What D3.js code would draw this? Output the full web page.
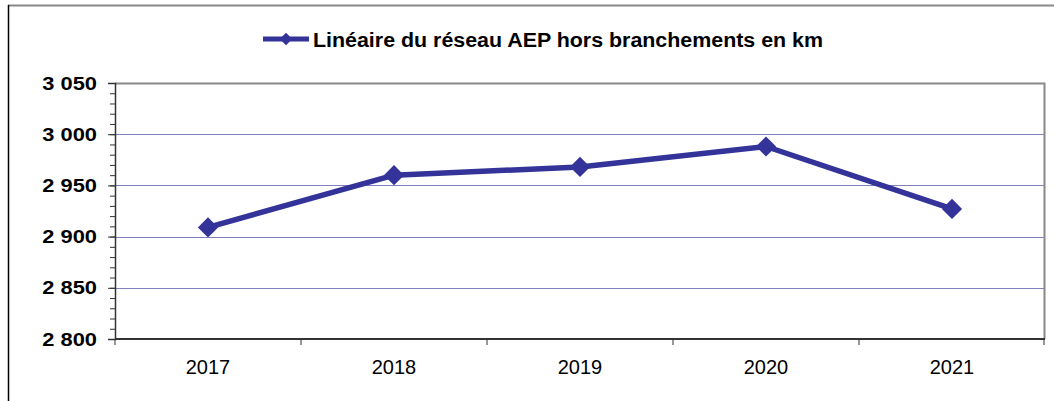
<!DOCTYPE html>
<html>
<head>
<meta charset="utf-8">
<script src="https://cdn.jsdelivr.net/npm/d3@7"></script>
<style>
  body { margin: 0; background: #fff; }
  #chart { width: 1054px; height: 401px; }
</style>
</head>
<body>
<div id="chart"></div>
<script>
const years = ["2017", "2018", "2019", "2020", "2021"];
const lineaire = [2909, 2960, 2968, 2988, 2927];
const yTicks = [2800, 2850, 2900, 2950, 3000, 3050];
const seriesName = "Linéaire du réseau AEP hors branchements en km";

let draw = () => {
  let width = 1054;
  let height = 401;
  let margin = { left: 115, right: 9, top: 83, bottom: 62 };
  let innerW = width - margin.left - margin.right;
  let innerH = height - margin.top - margin.bottom;
  let color = "#333399";
  let font = "Arial, 'Liberation Sans', sans-serif";

  let root = d3.select("#chart").append("svg")
    .attr("width", width)
    .attr("height", height)
    .style("font-family", font);

  // outer frame (only top and left visible)
  root.append("line").attr("x1", 8).attr("x2", width).attr("y1", 5.5).attr("y2", 5.5)
    .attr("stroke", "#888").attr("stroke-width", 2);
  root.append("line").attr("x1", 8.5).attr("x2", 8.5).attr("y1", 5).attr("y2", height)
    .attr("stroke", "#000").attr("stroke-width", 1.5);

  let svg = root.append("g").attr("transform", `translate(${margin.left}, ${margin.top})`);

  let xScale = d3.scaleBand().domain(years).range([0, innerW]);
  let yScale = d3.scaleLinear().domain([2800, 3050]).range([innerH, 0]);

  // gridlines
  svg.append("g")
    .selectAll("line")
    .data(yTicks.filter((d) => d > 2800 && d < 3050))
    .enter()
    .append("line")
    .attr("x1", 0).attr("x2", innerW)
    .attr("y1", (d) => Math.round(yScale(d)) + 0.5)
    .attr("y2", (d) => Math.round(yScale(d)) + 0.5)
    .attr("stroke", "#8080c0");

  // plot border top and right
  svg.append("path")
    .attr("d", `M0,0.5H${innerW - 0.5}V${innerH}`)
    .attr("fill", "none").attr("stroke", "#888").attr("stroke-width", 2);

  // minor ticks on y axis
  svg.append("g")
    .call(d3.axisLeft(yScale).tickValues(d3.range(2800, 3051, 10)).tickSize(5).tickFormat(""))
    .call((g) => g.select(".domain").remove())
    .selectAll("line").attr("stroke", "#333");

  // y axis
  svg.append("g")
    .call(d3.axisLeft(yScale).tickValues(yTicks).tickSize(7)
      .tickFormat((d) => d3.format(",")(d).replace(",", " ")))
    .call((g) => g.select(".domain").attr("stroke", "#333").attr("stroke-width", 1.5))
    .call((g) => g.selectAll("line").attr("stroke", "#333"))
    .call((g) => g.selectAll("text")
      .attr("font-size", 19).attr("font-weight", "bold")
      .attr("fill", "#000").attr("font-family", font)
      .attr("x", 0)
      .attr("transform", "translate(-18, 0) scale(1.15, 1)"));

  // x axis
  let xAxis = svg.append("g").attr("transform", `translate(0, ${innerH})`);
  xAxis.append("line").attr("x1", 0).attr("x2", innerW).attr("y1", 0).attr("y2", 0)
    .attr("stroke", "#333").attr("stroke-width", 2);
  xAxis.selectAll(".xtick")
    .data(years.concat(["end"]))
    .enter()
    .append("line")
    .attr("x1", (d, i) => i < years.length ? xScale(d) : innerW - 1)
    .attr("x2", (d, i) => i < years.length ? xScale(d) : innerW - 1)
    .attr("y1", 0).attr("y2", 6)
    .attr("stroke", "#333");
  xAxis.selectAll("text")
    .data(years)
    .enter()
    .append("text")
    .attr("x", (d) => xScale(d) + xScale.bandwidth() / 2)
    .attr("y", 35)
    .attr("text-anchor", "middle")
    .attr("font-size", 20)
    .text((d) => d);

  // line
  let points = years.map((y, i) => [xScale(y) + xScale.bandwidth() / 2, yScale(lineaire[i])]);
  svg.append("path")
    .attr("d", d3.line()(points))
    .attr("fill", "none")
    .attr("stroke", color)
    .attr("stroke-width", 5.5)
    .attr("stroke-linejoin", "round");

  let diamond = d3.symbol().type(d3.symbolDiamond2).size(260);
  svg.selectAll(".marker")
    .data(points)
    .enter()
    .append("path")
    .attr("d", diamond)
    .attr("transform", (d) => `translate(${d[0]}, ${d[1]})`)
    .attr("fill", color);

  // legend
  let legend = root.append("g").attr("transform", "translate(263, 39)");
  legend.append("line").attr("x1", 0).attr("x2", 46).attr("y1", 0).attr("y2", 0)
    .attr("stroke", color).attr("stroke-width", 5);
  legend.append("path")
    .attr("d", d3.symbol().type(d3.symbolDiamond2).size(100))
    .attr("transform", "translate(23, 0)")
    .attr("fill", color);
  legend.append("text")
    .attr("transform", "translate(50, 8) scale(1.07, 1)")
    .attr("font-size", 20).attr("font-weight", "bold")
    .text(seriesName);
};

draw();
</script>
</body>
</html>
